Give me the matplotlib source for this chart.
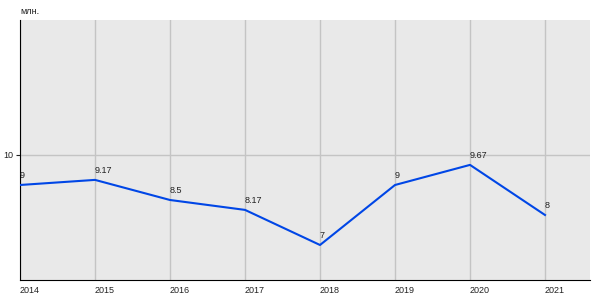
import matplotlib
matplotlib.use("Agg")
import matplotlib.pyplot as plt

years = [2014, 2015, 2016, 2017, 2018, 2019, 2020, 2021]
values = [9, 9.17, 8.5, 8.17, 7, 9, 9.67, 8]
labels = ["9", "9.17", "8.5", "8.17", "7", "9", "9.67", "8"]
unit = "млн."

plt.rcParams["font.family"] = ["Liberation Sans", "DejaVu Sans"]

fig = plt.figure(figsize=(6, 3), dpi=100)
ax = fig.add_axes([20/600, 20/300, 570/600, 260/300])
ax.set_facecolor("#e9e9e9")
ax.plot(years, values, color="#0046e6", lw=1.5, zorder=3)
for x, y, t in zip(years, values, labels):
    ax.annotate(t, (x, y), xytext=(-0.5, 3.5), textcoords="offset points",
                ha="left", va="bottom", fontsize=6.5, color="#222222", zorder=4)
ax.set_xlim(2014, 2021.6)
ax.set_ylim(5.833, 14.5)
ax.set_xticks(years)
ax.set_xticklabels([str(y) for y in years])
ax.set_yticks([10])
ax.grid(True, color="#c4c4c4", lw=1, zorder=0)
ax.set_axisbelow(True)
for s in ["top", "right"]:
    ax.spines[s].set_visible(False)
ax.spines["left"].set_color("black")
ax.spines["bottom"].set_color("black")
ax.tick_params(axis="x", length=0, pad=4, labelsize=6.5, colors="#222222")
ax.tick_params(axis="y", length=3, width=0.8, pad=1.5, labelsize=6.5, colors="#222222")
for lab in ax.get_xticklabels():
    lab.set_horizontalalignment("left")
fig.text(20/600, 1 - 12/300, unit, ha="left", va="center", fontsize=6.5, color="#222222")
fig.savefig("out.png", dpi=100)
